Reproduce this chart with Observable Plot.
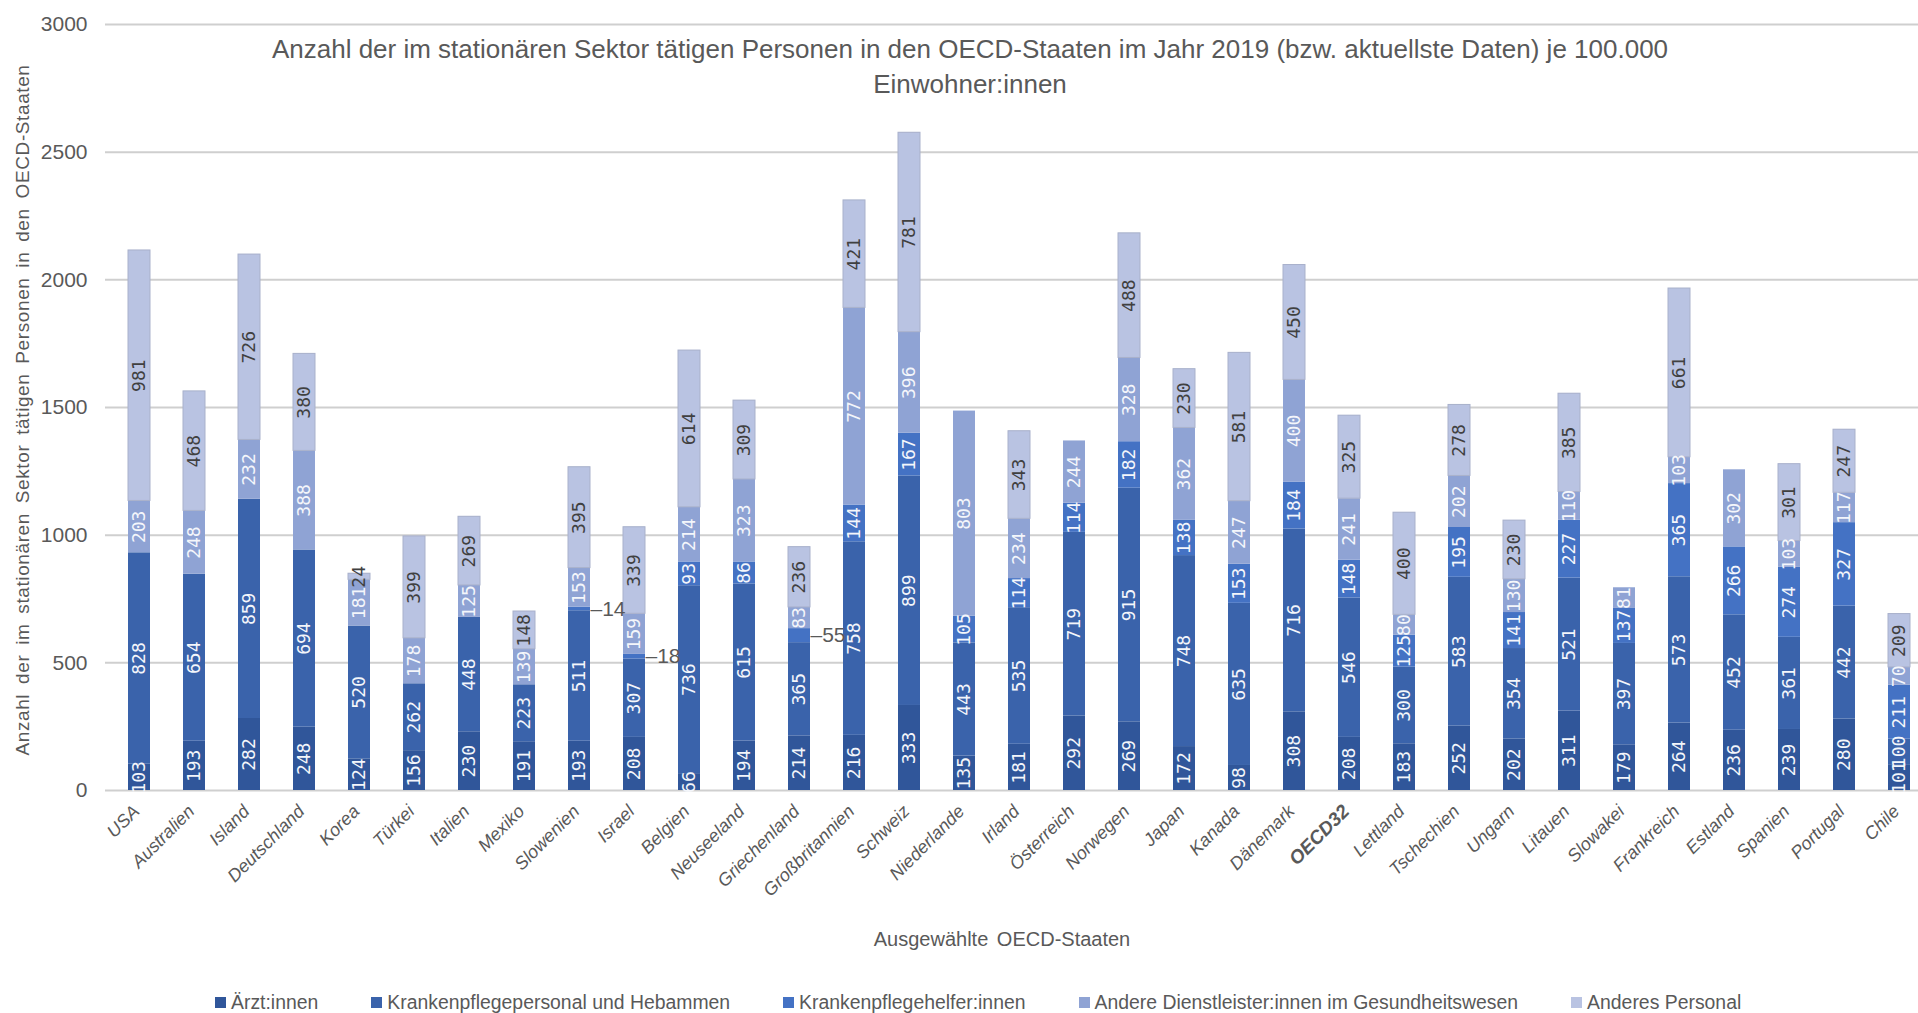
<!DOCTYPE html>
<html>
<head>
<meta charset="utf-8">
<script src="https://cdn.jsdelivr.net/npm/d3@7"></script>
<script src="https://cdn.jsdelivr.net/npm/@observablehq/plot@0.6"></script>
<style>
  html, body { margin: 0; padding: 0; background: #fff; overflow: hidden; }
  #chart { position: relative; width: 1918px; height: 1013px; overflow: hidden; color: #595959;
           font-family: "Liberation Sans", Arial, sans-serif; }
  #chart svg { position: absolute; left: 0; top: 0; overflow: hidden; }
  #title { position: absolute; left: 0; top: 32px; width: 1940px; text-align: center;
           font-size: 26px; line-height: 35px; }
  #ytitle { position: absolute; left: 23px; top: 410px; white-space: nowrap;
            transform: translate(-50%, -50%) rotate(-90deg);
            font-size: 19px; letter-spacing: 0.6px; word-spacing: 4px; }
  #xtitle { position: absolute; left: 0; top: 928px; width: 2004px; text-align: center; font-size: 20px; word-spacing: 3px; }
  #legend { position: absolute; left: 215px; top: 990px; display: flex; gap: 53px; font-size: 19.4px; line-height: 24px; }
  #legend .item { display: flex; align-items: center; white-space: nowrap; }
  #legend .swatch { width: 11px; height: 11px; margin-right: 5px; }
</style>
</head>
<body>
<div id="chart">
  <div id="title">Anzahl der im stationären Sektor tätigen Personen in den OECD-Staaten im Jahr 2019 (bzw. aktuellste Daten) je 100.000<br>Einwohner:innen</div>
  <div id="ytitle">Anzahl der im stationären Sektor tätigen Personen in den OECD-Staaten</div>
  <div id="xtitle">Ausgewählte OECD-Staaten</div>
  <div id="legend"></div>
</div>
<script>
// Beschäftigte im stationären Sektor je 100.000 Einwohner:innen, nach Berufsgruppe
const countries = ["USA", "Australien", "Island", "Deutschland", "Korea", "Türkei", "Italien", "Mexiko",
  "Slowenien", "Israel", "Belgien", "Neuseeland", "Griechenland", "Großbritannien", "Schweiz",
  "Niederlande", "Irland", "Österreich", "Norwegen", "Japan", "Kanada", "Dänemark", "OECD32",
  "Lettland", "Tschechien", "Ungarn", "Litauen", "Slowakei", "Frankreich", "Estland", "Spanien",
  "Portugal", "Chile"];

const aerzte   = [103, 193, 282, 248, 124, 156, 230, 191, 193, 208, 66, 194, 214, 216, 333, 135, 181,
                  292, 269, 172, 98, 308, 208, 183, 252, 202, 311, 179, 264, 236, 239, 280, 101];
const pflege   = [828, 654, 859, 694, 520, 262, 448, 223, 511, 307, 736, 615, 365, 758, 899, 443, 535,
                  719, 915, 748, 635, 716, 546, 300, 583, 354, 521, 397, 573, 452, 361, 442, 100];
const helfer   = [0, 0, 0, 0, 0, 0, 0, 0, 14, 18, 93, 86, 55, 144, 167, 105, 114,
                  114, 182, 138, 153, 184, 148, 125, 195, 141, 227, 137, 365, 266, 274, 327, 211];
const andere   = [203, 248, 232, 388, 181, 178, 125, 139, 153, 159, 214, 323, 83, 772, 396, 803, 234,
                  244, 328, 362, 247, 400, 241, 80, 202, 130, 110, 81, 103, 302, 103, 117, 70];
const sonstige = [981, 468, 726, 380, 24, 399, 269, 148, 395, 339, 614, 309, 236, 421, 781, 0, 343,
                  0, 488, 230, 581, 450, 325, 400, 278, 230, 385, 0, 661, 0, 301, 247, 209];

const seriesNames = ["Ärzt:innen", "Krankenpflegepersonal und Hebammen", "Krankenpflegehelfer:innen",
  "Andere Dienstleister:innen im Gesundheitswesen", "Anderes Personal"];
const seriesColors = ["#30569a", "#3a63ab", "#4472c4", "#8fa3d4", "#b9c3e2"];
const yTicks = [0, 500, 1000, 1500, 2000, 2500, 3000];
// Kleine Werte, die neben dem Balken beschriftet werden
const calloutCountries = ["Slowenien", "Israel", "Griechenland"];
const highlight = "OECD32";

// Stapel aufbauen
const seriesValues = [aerzte, pflege, helfer, andere, sonstige];
const rows = [];
countries.forEach((land, i) => {
  let acc = 0;
  seriesValues.forEach((vals, k) => {
    const v = vals[i];
    rows.push({land, gruppe: seriesNames[k], k, wert: v, y1: acc, y2: acc + v, mid: acc + v / 2});
    acc += v;
  });
});
const segs = rows.filter(d => d.wert > 0);
const isCallout = d => d.k === 2 && calloutCountries.includes(d.land);
const lightLabels = segs.filter(d => d.k < 4 && !isCallout(d));
const darkLabels = segs.filter(d => d.k === 4);
const callouts = segs.filter(isCallout);

const sans = '"Liberation Sans", Arial, sans-serif';
const mono = '"DejaVu Sans Mono", monospace';

const chart = Plot.plot({
  width: 1918,
  height: 1013,
  marginLeft: 105,
  marginRight: 0,
  marginTop: 24,
  marginBottom: 223,
  style: {fontFamily: sans, color: "#595959", background: "transparent"},
  x: {domain: countries, range: [105, 1933], paddingInner: 0.6, paddingOuter: 0.3, axis: null},
  y: {domain: [0, 3000], axis: null},
  color: {domain: seriesNames, range: seriesColors},
  marks: [
    Plot.ruleY(yTicks, {stroke: "#cfcfcf", strokeWidth: 2}),
    Plot.text(yTicks, {y: d => d, frameAnchor: "left", dx: -18, textAnchor: "end",
      fontSize: 21, fill: "#595959", text: d => String(d)}),
    Plot.barY(segs, {x: "land", y1: "y1", y2: "y2", fill: "gruppe"}),
    Plot.barY(segs.filter(d => d.k === 4), {x: "land", y1: "y1", y2: "y2", fill: "gruppe",
      stroke: "#a9b1cb", strokeWidth: 1}),
    Plot.text(lightLabels, {x: "land", y: "mid", text: d => String(d.wert), rotate: -90,
      fill: "#f4f6fb", fontFamily: mono, fontSize: 18}),
    Plot.text(darkLabels, {x: "land", y: "mid", text: d => String(d.wert), rotate: -90,
      fill: "#404040", fontFamily: mono, fontSize: 18}),
    Plot.text(callouts, {x: "land", y: "mid", text: d => "–" + d.wert, textAnchor: "start",
      dx: 11, fill: "#595959", fontSize: 21}),
    Plot.text(countries.filter(c => c !== highlight), {x: d => d, frameAnchor: "bottom", rotate: -45,
      textAnchor: "end", dx: 1, dy: 22, fontSize: 18, fontStyle: "italic", fill: "#595959"}),
    Plot.text([highlight], {x: d => d, frameAnchor: "bottom", rotate: -45,
      textAnchor: "end", dx: 1, dy: 22, fontSize: 19, fontStyle: "italic", fontWeight: "bold", fill: "#595959"})
  ]
});
document.getElementById("chart").prepend(chart);

// Legende
const legend = document.getElementById("legend");
seriesNames.forEach((name, k) => {
  const item = document.createElement("div");
  item.className = "item";
  const sw = document.createElement("span");
  sw.className = "swatch";
  sw.style.background = seriesColors[k];
  item.appendChild(sw);
  item.appendChild(document.createTextNode(name));
  legend.appendChild(item);
});
</script>
</body>
</html>
